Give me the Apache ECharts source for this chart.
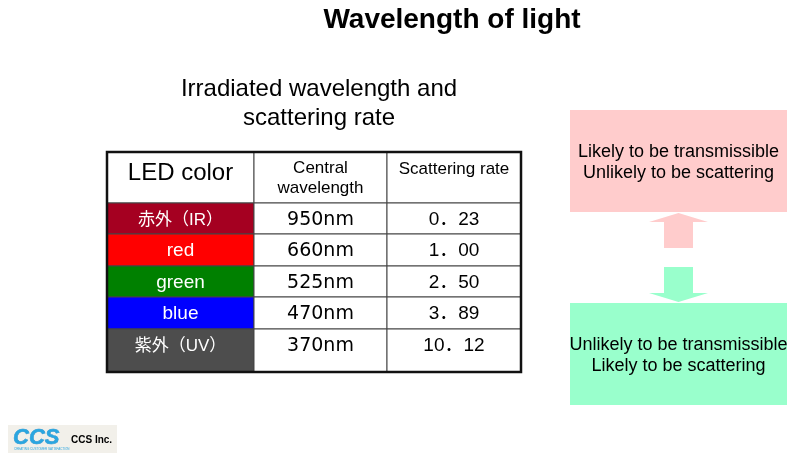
<!DOCTYPE html>
<html>
<head>
<meta charset="utf-8">
<script src="https://cdn.jsdelivr.net/npm/echarts@6/dist/echarts.min.js"></script>
<style>html,body{margin:0;padding:0;background:#fff}#main{width:800px;height:459px}</style>
</head>
<body>
<div id="main"></div>
<script>
// ---- data ----
const headers = ['LED color', 'Central\nwavelength', 'Scattering rate'];
const ledColors = ['赤外（IR）', 'red', 'green', 'blue', '紫外（UV）'];
const wavelengths = ['950nm', '660nm', '525nm', '470nm', '370nm'];
const scatteringRates = ['0．23', '1．00', '2．50', '3．89', '10．12'];
const titleText = 'Wavelength of light';
const subtitleText = 'Irradiated wavelength and\nscattering rate';
const upperNote = 'Likely to be transmissible\nUnlikely to be scattering';
const lowerNote = 'Unlikely to be transmissible\nLikely to be scattering';

// ---- styles / layout ----
const rowFills = ['#A50021', '#FF0000', '#008000', '#0000FF', '#4D4D4D'];
const colEdges = [0, 147, 280, 414];
const rowEdges = [0, 51, 82, 114, 145, 177, 220];
const headerTextY = [21, 26, 17];
const headerFont = [24, 17, 17];
const cellTextY = 17;
const FONT = "'Liberation Sans', Arial, 'Noto Sans CJK JP', sans-serif";
const WIDE_FONT = "'DejaVu Sans', 'Noto Sans CJK JP', sans-serif";

// build table cells
const cells = [];
headers.forEach((h, c) => cells.push([c, 0, h]));
for (let r = 0; r < ledColors.length; r++) {
  cells.push([0, r + 1, ledColors[r]]);
  cells.push([1, r + 1, wavelengths[r]]);
  cells.push([2, r + 1, scatteringRates[r]]);
}

function renderCell(params, api) {
  const c = api.value(0), r = api.value(1);
  const text = cells[params.dataIndex][2];
  const p0 = api.coord([colEdges[c], rowEdges[r]]);
  const p1 = api.coord([colEdges[c + 1], rowEdges[r + 1]]);
  const fill = (r > 0 && c === 0) ? rowFills[r - 1] : '#ffffff';
  const color = (r > 0 && c === 0) ? '#ffffff' : '#000000';
  const ty = r === 0 ? headerTextY[c] : cellTextY;
  let font;
  if (r === 0) font = headerFont[c] + 'px ' + FONT;
  else if (c === 1) font = '19px ' + WIDE_FONT;
  else if (/[\u3000-\u9fff\uff00-\uffef]/.test(text) && c === 0) font = '17px ' + FONT;
  else font = '19px ' + FONT;
  return {
    type: 'group',
    children: [
      { type: 'rect', shape: { x: p0[0], y: p0[1], width: p1[0] - p0[0], height: p1[1] - p0[1] },
        style: { fill: fill, stroke: '#444', lineWidth: 1 } },
      { type: 'text', x: (p0[0] + p1[0]) / 2, y: p0[1] + ty,
        style: { text: text, fill: color, font: font, align: 'center', verticalAlign: 'middle', lineHeight: 20 } }
    ]
  };
}

function renderFrame(params, api) {
  const p0 = api.coord([colEdges[0], rowEdges[0]]);
  const p1 = api.coord([colEdges[colEdges.length - 1], rowEdges[rowEdges.length - 1]]);
  return { type: 'rect', shape: { x: p0[0], y: p0[1], width: p1[0] - p0[0], height: p1[1] - p0[1] },
    style: { fill: 'none', stroke: '#111', lineWidth: 2.5 } };
}

const chart = echarts.init(document.getElementById('main'), null, { renderer: 'canvas' });
chart.setOption({
  backgroundColor: '#ffffff',
  animation: false,
  title: [
    { text: titleText, left: 447, top: 1, textAlign: 'center',
      textStyle: { fontSize: 28, fontWeight: 'bold', color: '#000', fontFamily: FONT } },
    { text: subtitleText, left: 314, top: 70, textAlign: 'center',
      textStyle: { fontSize: 24, fontWeight: 'normal', color: '#000', fontFamily: FONT, lineHeight: 29 } }
  ],
  grid: { left: 107, top: 152, width: 414, height: 220 },
  xAxis: { type: 'value', min: 0, max: 414, show: false },
  yAxis: { type: 'value', min: 0, max: 220, inverse: true, show: false },
  series: [
    { type: 'custom', renderItem: renderCell, data: cells.map(d => [d[0], d[1]]), clip: false },
    { type: 'custom', renderItem: renderFrame, data: [[0, 0]], clip: false, z: 5 }
  ],
  graphic: [
    { type: 'rect', shape: { x: 570, y: 110, width: 217, height: 102 }, style: { fill: '#FFCCCC' } },
    { type: 'text', x: 678.5, y: 163, style: { text: upperNote, font: '18px ' + FONT, fill: '#000', align: 'center', verticalAlign: 'middle', lineHeight: 21 } },
    { type: 'polygon', shape: { points: [[678.5, 213], [708, 222], [693, 222], [693, 248], [664, 248], [664, 222], [649, 222]] }, style: { fill: '#FFCCCC' } },
    { type: 'polygon', shape: { points: [[664, 267], [693, 267], [693, 293], [708, 293], [678.5, 302], [649, 293], [664, 293]] }, style: { fill: '#99FFCC' } },
    { type: 'rect', shape: { x: 570, y: 303, width: 217, height: 102 }, style: { fill: '#99FFCC' } },
    { type: 'text', x: 678.5, y: 356, style: { text: lowerNote, font: '18px ' + FONT, fill: '#000', align: 'center', verticalAlign: 'middle', lineHeight: 21 } },
    // logo
    { type: 'rect', shape: { x: 8, y: 425, width: 109, height: 28 }, style: { fill: '#F2F0EA' } },
    { type: 'text', x: 13, y: 438, style: { text: 'CCS', font: 'italic bold 22px ' + FONT, fill: '#2AA6E0', verticalAlign: 'middle', stroke: '#1A7FC0', lineWidth: 0.5 } },
    { type: 'text', x: 14, y: 449, style: { text: 'CREATING CUSTOMER SATISFACTION', font: '3px ' + FONT, fill: '#2AA6E0', verticalAlign: 'middle' } },
    { type: 'text', x: 71, y: 440, style: { text: 'CCS Inc.', font: 'bold 10px ' + FONT, fill: '#000', verticalAlign: 'middle' } }
  ]
});
</script>
</body>
</html>
